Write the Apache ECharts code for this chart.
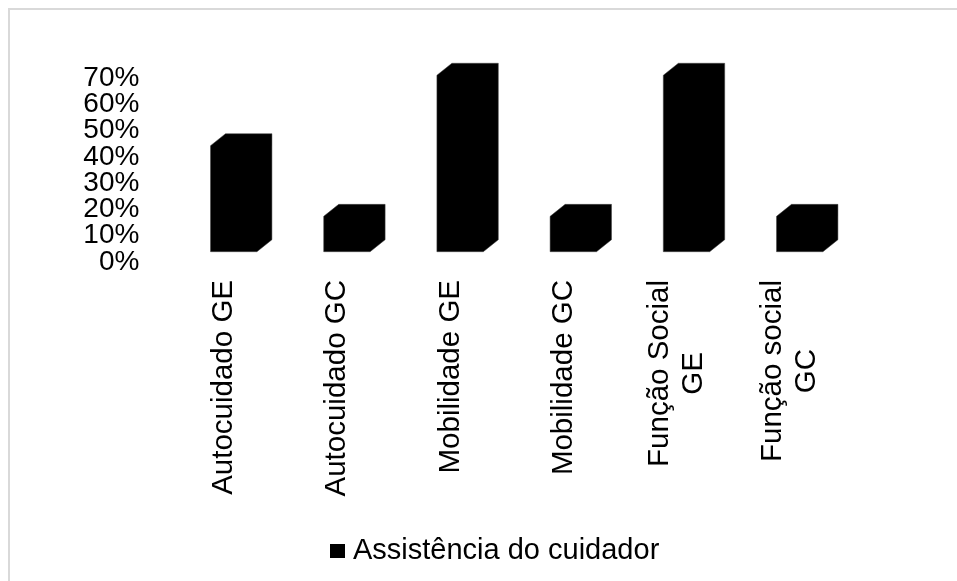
<!DOCTYPE html>
<html>
<head>
<meta charset="utf-8">
<script src="https://cdn.jsdelivr.net/npm/echarts@6/dist/echarts.min.js"></script>
<style>
  html, body { margin: 0; padding: 0; background: #fff; }
  #chart { width: 957px; height: 581px; }
</style>
</head>
<body>
<div id="chart"></div>
<script>
// 数据
var categories = ['Autocuidado GE', 'Autocuidado GC', 'Mobilidade GE', 'Mobilidade GC', 'Função Social\nGE', 'Função social\nGC'];
var values = [42.9, 14.3, 71.4, 14.3, 71.4, 14.3];
var seriesName = 'Assistência do cuidador';
var yTicks = [0, 10, 20, 30, 40, 50, 60, 70];

var font = '"Liberation Sans", Arial, sans-serif';
var chart = echarts.init(document.getElementById('chart'));

// 3D 柱子（六边形：正面 + 顶面 + 侧面）
function renderBar(params, api) {
    var i = api.value(0), v = api.value(1);
    var base = api.coord([i, 0]);
    var top = api.coord([i, v]);
    var band = api.size([1, 0])[0];
    var w = band * 0.41;
    var dx = 15, dy = 12;
    var x0 = base[0] - 13.5;
    var y0 = base[1] - 10.3;
    var y1 = y0 - (base[1] - top[1]) * 0.94;
    return {
        type: 'polygon',
        shape: {
            points: [
                [x0, y0], [x0, y1], [x0 + dx, y1 - dy],
                [x0 + w + dx, y1 - dy], [x0 + w + dx, y0 - dy], [x0 + w, y0]
            ]
        },
        style: { fill: '#000', stroke: '#444', lineWidth: 0.5 }
    };
}

// 纵轴刻度文字（标签挨得很紧，自带的会被隐藏，这里自己画）
function renderTick(params, api) {
    var p = api.coord([0, api.value(1)]);
    return {
        type: 'text',
        x: params.coordSys.x - 28,
        y: p[1],
        style: {
            text: api.value(1) + '%',
            fontFamily: font, fontSize: 28, fill: '#000',
            align: 'right', verticalAlign: 'middle'
        }
    };
}

var option = {
    backgroundColor: '#fff',
    animation: false,
    graphic: [{
        type: 'rect',
        shape: { x: 9, y: 9, width: 1000, height: 1000 },
        style: { fill: 'none', stroke: '#d9d9d9', lineWidth: 2 }
    }],
    legend: {
        left: 325,
        top: 531,
        icon: 'rect',
        itemWidth: 15,
        itemHeight: 14,
        data: [seriesName],
        textStyle: { fontFamily: font, fontSize: 29, color: '#000', padding: [0, 0, 0, 3], lineHeight: 30 }
    },
    grid: { left: 167.4, top: 78, width: 679.2, height: 184, containLabel: false },
    xAxis: {
        type: 'category',
        data: categories,
        axisLine: { show: false },
        axisTick: { show: false },
        axisLabel: {
            interval: 0,
            rotate: 90,
            margin: 18,
            formatter: function (val) {
                return val.split('\n').map(function (s) { return '{c|' + s + '}'; }).join('\n');
            },
            rich: {
                c: { align: 'center', fontFamily: font, fontSize: 29.5, color: '#000', lineHeight: 34 }
            }
        }
    },
    yAxis: {
        type: 'value',
        min: yTicks[0],
        max: yTicks[yTicks.length - 1],
        interval: 10,
        splitLine: { show: false },
        axisLine: { show: false },
        axisTick: { show: false },
        axisLabel: { show: false }
    },
    series: [{
        name: seriesName,
        type: 'custom',
        renderItem: renderBar,
        itemStyle: { color: '#000' },
        encode: { x: 0, y: 1 },
        data: values.map(function (v, i) { return [i, v]; })
    }, {
        name: 'ticks',
        type: 'custom',
        renderItem: renderTick,
        silent: true,
        encode: { x: 0, y: 1 },
        data: yTicks.map(function (v) { return [0, v]; })
    }]
};
chart.setOption(option);
</script>
</body>
</html>
